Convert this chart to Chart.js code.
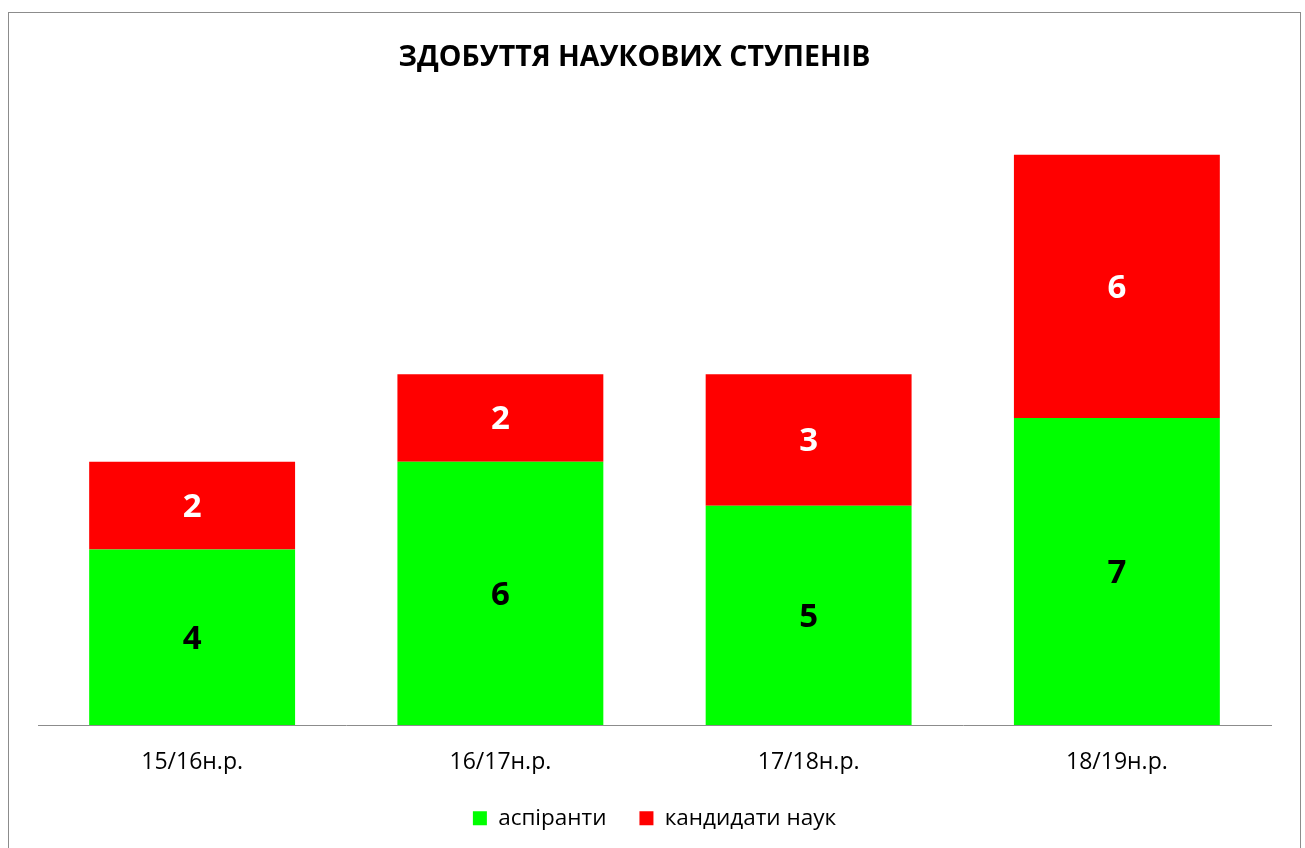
<!DOCTYPE html>
<html>
<head>
<meta charset="utf-8">
<script src="https://cdn.jsdelivr.net/npm/chart.js@4"></script>
<style>
  html, body { margin: 0; padding: 0; background: #fff; overflow: hidden; }
  #frame {
    position: absolute; left: 8px; top: 12px;
    width: 1291px; height: 845px;
    border: 1px solid #8c8c8c; background: #fff;
  }
  #chart { display: block; }
</style>
</head>
<body>
<div id="frame"><canvas id="chart" width="1291" height="835"></canvas></div>
<script>
const categories = ["15/16н.р.", "16/17н.р.", "17/18н.р.", "18/19н.р."];
const aspiranty = [4, 6, 5, 7];
const kandydaty = [2, 2, 3, 6];
const seriesNames = ["аспіранти", "кандидати наук"];
const chartTitle = "ЗДОБУТТЯ НАУКОВИХ СТУПЕНІВ";

const FONT = "'Open Sans', 'DejaVu Sans', sans-serif";

// title sits a little left of centre in the original, so draw it here
const titleText = {
  id: "titleText",
  afterDraw(chart) {
    const ctx = chart.ctx;
    ctx.save();
    ctx.font = "bold 28.5px " + FONT;
    ctx.fillStyle = "#000";
    ctx.textAlign = "center";
    ctx.textBaseline = "middle";
    ctx.fillText(chartTitle, 625.5, 45);
    ctx.restore();
  }
};

// values written in the middle of each stacked segment
const segmentLabels = {
  id: "segmentLabels",
  afterDatasetsDraw(chart) {
    const ctx = chart.ctx;
    ctx.save();
    ctx.font = "bold 33px " + FONT;
    ctx.textAlign = "center";
    ctx.textBaseline = "middle";
    chart.data.datasets.forEach((ds, i) => {
      const meta = chart.getDatasetMeta(i);
      meta.data.forEach((bar, j) => {
        const v = ds.data[j];
        if (!v) return;
        ctx.fillStyle = i === 0 ? "#000000" : "#ffffff";
        ctx.fillText(String(v), bar.x, (bar.y + bar.base) / 2 + 2);
      });
    });
    ctx.restore();
  }
};

window.addEventListener("DOMContentLoaded", () => {
  const ctx = document.getElementById("chart").getContext("2d");

  new Chart(ctx, {
    type: "bar",
    data: {
      labels: categories,
      datasets: [{
        label: seriesNames[0],
        data: aspiranty,
        backgroundColor: "#00ff00",
        borderWidth: 0
      }, {
        label: seriesNames[1],
        data: kandydaty,
        backgroundColor: "#ff0000",
        borderWidth: 0
      }]
    },
    options: {
      responsive: false,
      animation: false,
      barPercentage: 0.668,
      categoryPercentage: 1,
      layout: {
        padding: { left: 29, right: 29, top: 98, bottom: 8.5 }
      },
      plugins: {
        title: { display: false },
        legend: {
          position: "bottom",
          labels: {
            color: "#000",
            font: { family: FONT, size: 22.5 },
            boxWidth: 14,
            boxHeight: 14,
            padding: 33
          }
        },
        tooltip: { enabled: false }
      },
      scales: {
        x: {
          stacked: true,
          grid: { display: false },
          border: { display: true, color: "#8c8c8c", width: 1 },
          ticks: {
            color: "#000",
            font: { family: FONT, size: 23 },
            padding: 16
          },
          afterFit(scale) {
            scale.height = 49;
          }
        },
        y: {
          stacked: true,
          display: false,
          min: 0,
          max: 14
        }
      }
    },
    plugins: [segmentLabels, titleText]
  });
});
</script>
</body>
</html>
